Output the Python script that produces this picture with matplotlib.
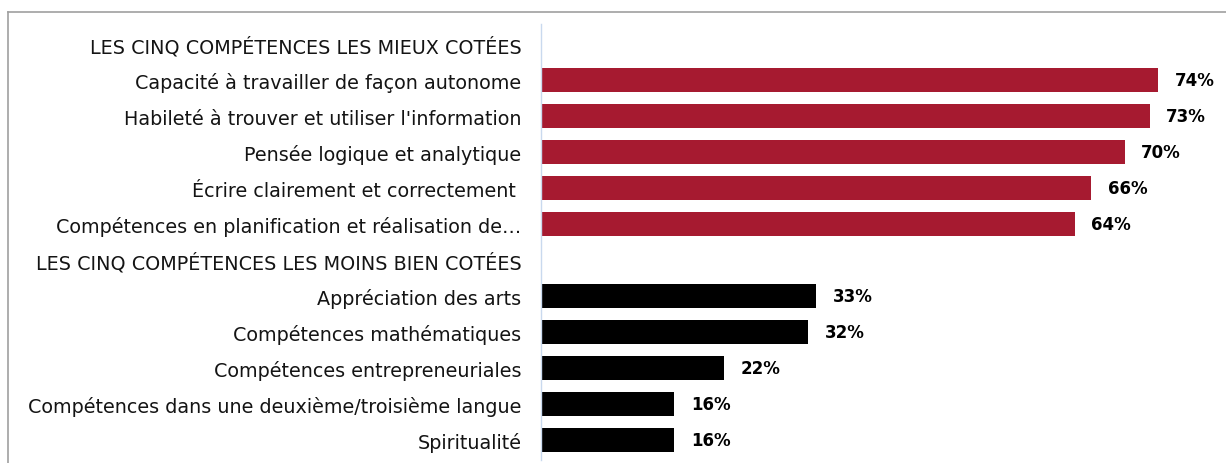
import matplotlib
matplotlib.use("Agg")
import matplotlib.pyplot as plt
from matplotlib.lines import Line2D

labels = [
    "LES CINQ COMPÉTENCES LES MIEUX COTÉES",
    "Capacité à travailler de façon autonome",
    "Habileté à trouver et utiliser l'information",
    "Pensée logique et analytique",
    "Écrire clairement et correctement ",
    "Compétences en planification et réalisation de…",
    "LES CINQ COMPÉTENCES LES MOINS BIEN COTÉES",
    "Appréciation des arts",
    "Compétences mathématiques",
    "Compétences entrepreneuriales",
    "Compétences dans une deuxième/troisième langue",
    "Spiritualité",
]
values = [None, 74, 73, 70, 66, 64, None, 33, 32, 22, 16, 16]
groups = [None, "top", "top", "top", "top", "top", None, "low", "low", "low", "low", "low"]
colors = {"top": "#A61A30", "low": "#000000"}

plt.rcParams['font.family'] = ['DejaVu Sans']

fig = plt.figure(figsize=(12.26, 4.64), dpi=100)
W, H = 1226, 464
x0, x1 = 541, 1208
y_top, y_bot = 25, 461
ax = fig.add_axes([x0 / W, 1 - y_bot / H, (x1 - x0) / W, (y_bot - y_top) / H])

ypos = list(range(len(labels)))
for y, v, g in zip(ypos, values, groups):
    if v is None:
        continue
    ax.barh(y, v, height=0.67, color=colors[g], edgecolor='none')
    ax.text(v + 2.0, y, f"{v}%", va='center', ha='left', fontsize=12,
            fontweight='bold', color='black')

ax.set_ylim(11.56, -0.56)
ax.set_xlim(0, 80)
ax.set_yticks(ypos)
ax.set_yticklabels(labels, fontsize=13.8, color='#141414')
ax.tick_params(axis='y', length=0, pad=14)
ax.set_xticks([])
for s in ['top', 'right', 'bottom']:
    ax.spines[s].set_visible(False)
ax.spines['left'].set_color('#C9D9EE')
ax.spines['left'].set_linewidth(1.0)

fig.add_artist(Line2D([8 / W, 1.0], [1 - 13 / H, 1 - 13 / H], color='#A0A0A0', lw=1.2, transform=fig.transFigure))
fig.add_artist(Line2D([8 / W, 8 / W], [0, 1 - 13 / H], color='#A0A0A0', lw=1.2, transform=fig.transFigure))

fig.savefig("out.png", dpi=100)
